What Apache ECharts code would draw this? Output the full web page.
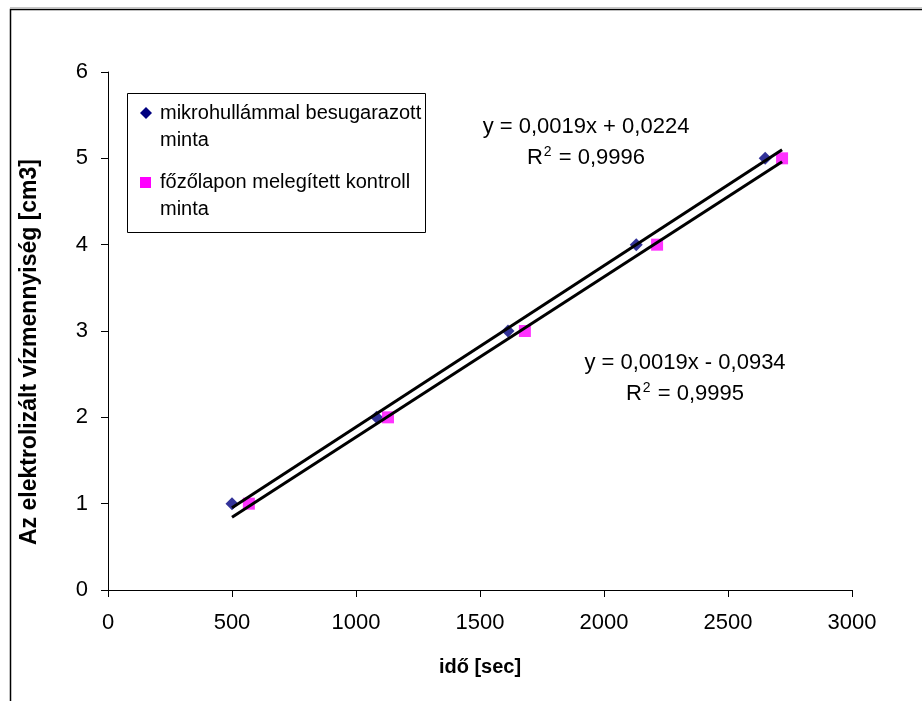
<!DOCTYPE html>
<html>
<head>
<meta charset="utf-8">
<script src="https://cdn.jsdelivr.net/npm/echarts@6/dist/echarts.min.js"></script>
<style>
html,body{margin:0;padding:0;background:#fff;}
#c{width:922px;height:701px;}
</style>
</head>
<body>
<div id="c"></div>
<script>
// ---- data ----
const seriesNames = ['mikrohullámmal besugarazott minta', 'főzőlapon melegített kontroll minta'];
const legendLines = [['mikrohullámmal besugarazott', 'minta'], ['főzőlapon melegített kontroll', 'minta']];
const microX = [500, 1083, 1613, 2130, 2650];
const microY = [1, 2, 3, 4, 5];
const plateX = [568, 1129, 1681, 2214, 2718];
const plateY = [1, 2, 3, 4, 5];
const xAxisMin = 0, xAxisMax = 3000, xAxisStep = 500;
const yAxisMin = 0, yAxisMax = 6, yAxisStep = 1;
const xTitle = 'idő [sec]';
const yTitle = 'Az elektrolizált vízmennyiség [cm3]';
const eqMicro = ['y = 0,0019x + 0,0224', '0,9996'];
const eqPlate = ['y = 0,0019x - 0,0934', '0,9995'];

// ---- linear regression (trendline like Excel) ----
function fit(xs, ys) {
  const n = xs.length;
  const mx = xs.reduce((a, b) => a + b, 0) / n;
  const my = ys.reduce((a, b) => a + b, 0) / n;
  let sxy = 0, sxx = 0;
  for (let i = 0; i < n; i++) { sxy += (xs[i] - mx) * (ys[i] - my); sxx += (xs[i] - mx) * (xs[i] - mx); }
  const b = sxy / sxx;
  return { a: my - b * mx, b: b };
}
const allX = microX.concat(plateX);
const lo = Math.min.apply(null, allX), hi = Math.max.apply(null, allX);
function trend(xs, ys) {
  const f = fit(xs, ys);
  return [[lo, f.a + f.b * lo], [hi, f.a + f.b * hi]];
}
const pairs = (xs, ys) => xs.map((x, i) => [x, ys[i]]);

const FONT = '"Liberation Sans", Arial, sans-serif';
const chart = echarts.init(document.getElementById('c'), null, { renderer: 'canvas' });

function eqText(lines, cx, cy) {
  return [
    { type: 'text', z: 100, style: { text: lines[0], x: cx, y: cy, align: 'center', verticalAlign: 'middle', fontFamily: FONT, fontSize: 22, fill: '#000' } },
    { type: 'text', z: 100, style: {
        text: '{a|R}{s|2}{a| = ' + lines[1] + '}', x: cx, y: cy + 31, align: 'center', verticalAlign: 'middle',
        rich: { a: { fontFamily: FONT, fontSize: 22, fill: '#000', lineHeight: 26 }, s: { fontFamily: FONT, fontSize: 14, fill: '#000', verticalAlign: 'top', lineHeight: 26, padding: [0, 1, 9, 1] } }
      } }
  ];
}

const graphics = [
  // outer chart border
  { type: 'line', shape: { x1: 10, y1: 7.5, x2: 922, y2: 7.5 }, style: { stroke: '#c8c8c8', lineWidth: 1 } },
  { type: 'rect', shape: { x: 10.5, y: 9.5, width: 1000, height: 1000 }, style: { fill: null, stroke: '#000', lineWidth: 1.5 } },
  // y title
  { type: 'text', rotation: Math.PI / 2, x: 30, y: 352, style: { text: yTitle, align: 'center', verticalAlign: 'middle', fontFamily: FONT, fontWeight: 'bold', fontSize: 23, fill: '#000' } },
  // legend box
  { type: 'rect', z: 90, shape: { x: 127.5, y: 93.5, width: 298, height: 139 }, style: { fill: '#fff', stroke: '#000', lineWidth: 1 } },
  { type: 'polygon', z: 91, shape: { points: [[146, 107], [152, 113], [146, 119], [140, 113]] }, style: { fill: '#000080' } },
  { type: 'rect', z: 91, shape: { x: 140, y: 177, width: 11, height: 11 }, style: { fill: '#ff00ff' } },
  { type: 'text', z: 91, style: { text: legendLines[0].join('\n'), x: 160, y: 100, fontFamily: FONT, fontSize: 20, lineHeight: 27, fill: '#000' } },
  { type: 'text', z: 91, style: { text: legendLines[1].join('\n'), x: 160, y: 169, fontFamily: FONT, fontSize: 20, lineHeight: 27, fill: '#000' } }
].concat(eqText(eqMicro, 586, 127), eqText(eqPlate, 685, 363));

const axisCommon = {
  axisLine: { show: true, lineStyle: { color: '#000', width: 1 } },
  axisTick: { show: true, inside: false, length: 7, lineStyle: { color: '#000' } },
  splitLine: { show: false }
};

chart.setOption({
  animation: false,
  backgroundColor: '#fff',
  grid: { left: 108, right: 70, top: 72, bottom: 111, containLabel: false },
  xAxis: Object.assign({}, axisCommon, {
    type: 'value', min: xAxisMin, max: xAxisMax, interval: xAxisStep,
    name: xTitle, nameLocation: 'middle', nameGap: 67,
    nameTextStyle: { fontFamily: FONT, fontSize: 20, fontWeight: 'bold', color: '#000' },
    axisLabel: { fontFamily: FONT, fontSize: 22, color: '#000', margin: 22, formatter: v => String(v) }
  }),
  yAxis: Object.assign({}, axisCommon, {
    type: 'value', min: yAxisMin, max: yAxisMax, interval: yAxisStep,
    axisLabel: { fontFamily: FONT, fontSize: 22, color: '#000', margin: 20, formatter: v => String(v) }
  }),
  graphic: graphics,
  series: [
    { name: seriesNames[0], type: 'scatter', data: pairs(microX, microY), symbol: 'diamond', symbolSize: 13, itemStyle: { color: '#000080' }, z: 2 },
    { name: seriesNames[1], type: 'scatter', data: pairs(plateX, plateY), symbol: 'rect', symbolSize: 12, itemStyle: { color: '#ff00ff' }, z: 2 },
    { name: 'trend1', type: 'line', data: trend(microX, microY), symbol: 'none', lineStyle: { color: '#000', width: 3 }, z: 5 },
    { name: 'trend2', type: 'line', data: trend(plateX, plateY), symbol: 'none', lineStyle: { color: '#000', width: 3 }, z: 5 }
  ]
});
</script>
</body>
</html>
